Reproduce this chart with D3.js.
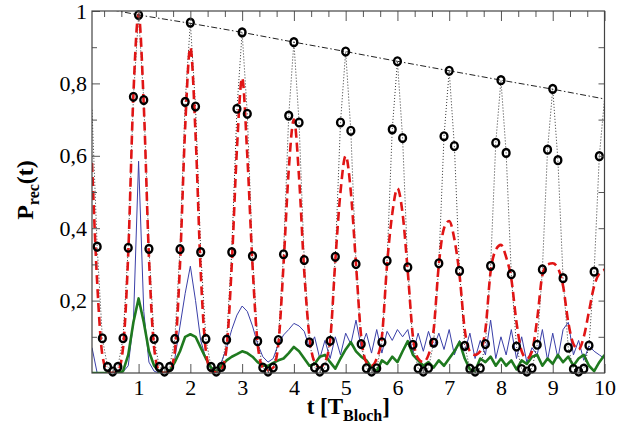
<!DOCTYPE html>
<html><head><meta charset="utf-8">
<script src="https://cdn.jsdelivr.net/npm/d3@7"></script>
<style>body{margin:0;background:#fff}svg{display:block}
svg text{font-family:'Liberation Serif','Times New Roman',Times,serif !important}</style>
</head><body><svg id="c" width="630" height="434"></svg>
<script>
// sample grid: t = 0.1, 0.2, ... 10.0
const tStep = 0.1;
// black dotted series with circles
const blackVals = [
 0.727,0.349,0.096,0.017,0.004,0.017,0.096,0.346,0.763,0.989,
 0.754,0.343,0.094,0.017,0.004,0.017,0.094,0.342,0.749,0.968,
 0.736,0.334,0.094,0.017,0.004,0.017,0.092,0.334,0.730,0.941,
 0.716,0.323,0.088,0.015,0.004,0.015,0.091,0.328,0.711,0.914,
 0.692,0.312,0.085,0.015,0.004,0.015,0.089,0.321,0.692,0.888,
 0.669,0.301,0.080,0.013,0.004,0.013,0.085,0.310,0.673,0.861,
 0.649,0.292,0.078,0.013,0.004,0.014,0.084,0.303,0.654,0.835,
 0.627,0.282,0.075,0.012,0.004,0.013,0.080,0.296,0.636,0.809,
 0.608,0.273,0.073,0.011,0.004,0.013,0.078,0.286,0.617,0.785,
 0.588,0.262,0.070,0.011,0.004,0.012,0.076,0.280,0.599,0.757
];
// red dashed series
const redVals = [
 0.58,0.25,0.05,0.005,0,0.005,0.07,0.33,0.77,0.99,
 0.74,0.32,0.07,0.005,0,0.005,0.06,0.30,0.68,0.90,
 0.66,0.28,0.06,0.005,0.002,0.01,0.07,0.30,0.62,0.815,
 0.60,0.30,0.08,0.015,0.008,0.015,0.08,0.30,0.56,0.70,
 0.54,0.28,0.10,0.03,0.015,0.03,0.09,0.31,0.50,0.60,
 0.50,0.30,0.10,0.03,0.02,0.04,0.10,0.30,0.44,0.51,
 0.44,0.28,0.10,0.04,0.03,0.05,0.12,0.30,0.40,0.42,
 0.37,0.27,0.12,0.06,0.05,0.06,0.12,0.28,0.34,0.354,
 0.32,0.26,0.14,0.06,0.04,0.06,0.15,0.27,0.30,0.303,
 0.29,0.24,0.14,0.08,0.065,0.10,0.17,0.24,0.275,0.285
];
// thin blue series
const blueVals = [
 0.07,0,0,0,0,0,0.003,0.02,0.14,0.585,
 0.17,0.03,0.005,0,0,0.005,0.04,0.13,0.22,0.295,
 0.2,0.09,0.04,0.01,0.003,0.03,0.07,0.12,0.16,0.185,
 0.17,0.13,0.08,0.045,0.03,0.04,0.08,0.105,0.12,0.137,
 0.13,0.115,0.07,0.1,0.04,0.09,0.04,0.1,0.05,0.11,
 0.08,0.146,0.07,0.11,0.055,0.12,0.055,0.115,0.09,0.12,
 0.1,0.12,0.055,0.11,0.06,0.115,0.07,0.11,0.065,0.12,
 0.05,0.09,0.06,0.11,0.04,0.09,0.05,0.146,0.04,0.1,
 0.05,0.12,0.04,0.1,0.03,0.07,0.05,0.12,0.035,0.11,
 0.04,0.12,0.14,0.05,0.09,0.035,0.075,0.06,0.05,0.04
];
// thick green series
const greenVals = [
 0,0,0,0,0,0,0.005,0.05,0.14,0.206,
 0.14,0.06,0.02,0.003,0,0.005,0.03,0.06,0.1,0.107,
 0.1,0.07,0.04,0.015,0.004,0.02,0.035,0.045,0.052,0.06,
 0.055,0.045,0.03,0.02,0.02,0.028,0.035,0.04,0.055,0.072,
 0.06,0.04,0.02,0.025,0.045,0.05,0.03,0.012,0.04,0.065,
 0.085,0.06,0.045,0.035,0.015,0.005,0.035,0.025,0.045,0.03,
 0.06,0.088,0.05,0.035,0.02,0.03,0.015,0.035,0.02,0.04,
 0.06,0.085,0.04,0.01,0.005,0.04,0.03,0.045,0.02,0.04,
 0.02,0.035,0.01,0.035,0.025,0.045,0.05,0.02,0.04,0.025,
 0.05,0.03,0.045,0.02,0.04,0.05,0.02,0.005,0.03,0.05
];
// dash-dot envelope through the peaks
const envT = [0.5,1,2,3,4,5,6,7,8,9,10];
const envV = [1.003,0.989,0.966,0.941,0.914,0.888,0.861,0.835,0.809,0.784,0.757];
// axis ticks
const xMajor = [1,2,3,4,5,6,7,8,9,10];
const xMinorBottom = [0.5,1.5,2.5,3.5,4.5,5.5,6.5,7.5,8.5,9.5];
const yMajor = [0.2,0.4,0.6,0.8,1];
const yMinor = [0.1,0.3,0.5,0.7,0.9];

const svg=d3.select('#c');
const x=d3.scaleLinear().domain([0.1,10]).range([92,604.5]);
const y=d3.scaleLinear().domain([0,1]).range([373,11]);
const X0=x.range()[0],X1=x.range()[1],Y0=y.range()[1],Y1=y.range()[0];
const FONT="'Liberation Serif','Times New Roman',Times,serif";

const pts=vals=>vals.map((v,i)=>({t:+((i+1)*tStep).toFixed(2),v}));
const xMinorTop=d3.range(1,30).map(k=>k/3).filter(d=>Math.abs(d-Math.round(d))>1e-6 && d>x.domain()[0]);

svg.append('defs').append('clipPath').attr('id','clip')
  .append('rect').attr('x',X0).attr('y',Y0).attr('width',X1-X0).attr('height',Y1-Y0);
const plot=svg.append('g').attr('clip-path','url(#clip)');

const lineL=d3.line().x(d=>x(d.t)).y(d=>y(d.v));
plot.append('path').datum(pts(blueVals)).attr('d',lineL)
  .attr('fill','none').attr('stroke','#3a3fa8').attr('stroke-width',1);
plot.append('path').datum(pts(greenVals)).attr('d',lineL)
  .attr('fill','none').attr('stroke','#1f7a1f').attr('stroke-width',2.6).attr('stroke-linejoin','round');
plot.append('path').datum(pts(blackVals)).attr('d',lineL)
  .attr('fill','none').attr('stroke','#333').attr('stroke-width',1).attr('stroke-dasharray','1,2');
plot.append('path').datum(pts(redVals)).attr('d',d3.line().x(d=>x(d.t)).y(d=>y(d.v)).curve(d3.curveMonotoneX))
  .attr('fill','none').attr('stroke','#e01515').attr('stroke-width',2.6).attr('stroke-dasharray','9,5');
plot.append('path').datum(envT.map((t,i)=>({t,v:envV[i]}))).attr('d',lineL)
  .attr('fill','none').attr('stroke','#222').attr('stroke-width',1).attr('stroke-dasharray','6,2.5,1.5,2.5');

// circle markers (those centred on the frame edge are not shown)
svg.append('g').selectAll('ellipse').data(pts(blackVals).filter(d=>d.t>x.domain()[0]+1e-6 && d.t<x.domain()[1]-1e-6))
  .join('ellipse').attr('cx',d=>x(d.t)).attr('cy',d=>y(d.v)).attr('rx',3.4).attr('ry',3.9)
  .attr('fill','none').attr('stroke','#000').attr('stroke-width',2.4);

// axes
const tickCol='#555';
function styleAxis(g){g.attr('font-family',null).attr('font-size',null);g.select('.domain').remove();g.selectAll('line').attr('stroke',tickCol);
  g.selectAll('text').style('font-family',FONT).style('font-size','22px').attr('fill','#000');}
svg.append('g').attr('transform',`translate(0,${Y1})`)
  .call(d3.axisBottom(x).tickValues(xMajor).tickSize(-9).tickPadding(6).tickFormat(d3.format('d'))).call(styleAxis);
svg.append('g').attr('transform',`translate(0,${Y1})`)
  .call(d3.axisBottom(x).tickValues(xMinorBottom).tickSize(-5).tickFormat('')).call(styleAxis);
svg.append('g').attr('transform',`translate(0,${Y0})`)
  .call(d3.axisTop(x).tickValues(xMajor).tickSize(-10).tickFormat('')).call(styleAxis);
svg.append('g').attr('transform',`translate(0,${Y0})`)
  .call(d3.axisTop(x).tickValues(xMinorTop).tickSize(-6).tickFormat('')).call(styleAxis);
svg.append('g').attr('transform',`translate(${X0},0)`)
  .call(d3.axisLeft(y).tickValues(yMajor).tickSize(-8).tickPadding(5)
    .tickFormat(d=>d===1?'1':d3.format('.1f')(d).replace('.',','))).call(styleAxis);
svg.append('g').attr('transform',`translate(${X0},0)`)
  .call(d3.axisLeft(y).tickValues(yMinor).tickSize(-5).tickFormat('')).call(styleAxis);
svg.append('g').attr('transform',`translate(${X1},0)`)
  .call(d3.axisRight(y).tickValues(yMinor.concat(yMajor.slice(0,4))).tickSize(-6).tickFormat('')).call(styleAxis);

svg.append('rect').attr('x',X0).attr('y',Y0).attr('width',X1-X0).attr('height',Y1-Y0)
  .attr('fill','none').attr('stroke','#444').attr('stroke-width',1.2);

// axis titles
const xt=svg.append('text').attr('x',(X0+X1)/2).attr('y',414).attr('text-anchor','middle')
  .style('font-family',FONT).attr('font-weight','bold').style('font-size','23px');
xt.append('tspan').text('t [T');
xt.append('tspan').style('font-size','16px').attr('dy',7).text('Bloch');
xt.append('tspan').attr('dy',-7).text(']');

const yt=svg.append('text').attr('transform','translate(33,190) rotate(-90)').attr('text-anchor','middle')
  .style('font-family',FONT).attr('font-weight','bold').style('font-size','24px');
yt.append('tspan').text('P');
yt.append('tspan').style('font-size','16px').attr('dy',6).text('rec');
yt.append('tspan').attr('dy',-6).text('(t)');
</script></body></html>
